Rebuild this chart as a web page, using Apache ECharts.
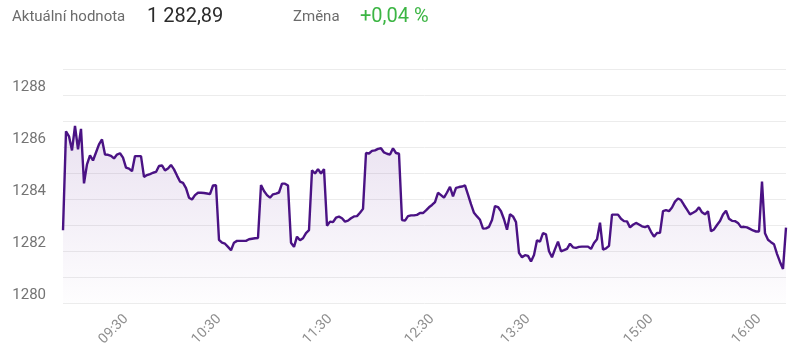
<!DOCTYPE html>
<html>
<head>
<meta charset="utf-8">
<script src="https://cdn.jsdelivr.net/npm/echarts@6/dist/echarts.min.js"></script>
<style>html,body{margin:0;padding:0;background:#fff}#c{width:800px;height:364px}</style>
</head>
<body>
<div id="c"></div>
<script>
const values = [
1282.80,1286.60,1286.41,1285.87,1286.81,1285.91,1286.70,1284.60,1285.33,1285.68,
1285.48,1285.79,1286.10,1286.29,1285.71,1285.70,1285.66,1285.56,1285.71,1285.76,
1285.59,1285.21,1285.17,1285.07,1285.65,1285.65,1285.65,1284.85,1284.92,1284.96,
1285.01,1285.04,1285.27,1285.29,1285.10,1285.17,1285.31,1285.14,1284.90,1284.67,
1284.62,1284.42,1284.05,1283.98,1284.15,1284.24,1284.24,1284.23,1284.21,1284.19,
1284.52,1284.53,1282.43,1282.32,1282.28,1282.16,1282.03,1282.32,1282.39,1282.39,
1282.39,1282.39,1282.45,1282.47,1282.49,1282.50,1284.54,1284.31,1284.15,1284.05,
1284.18,1284.21,1284.25,1284.59,1284.59,1284.52,1282.32,1282.16,1282.55,1282.41,
1282.49,1282.69,1282.80,1285.10,1284.98,1285.15,1284.98,1285.15,1282.97,1283.13,
1283.11,1283.28,1283.32,1283.26,1283.13,1283.17,1283.26,1283.33,1283.34,1283.47,
1283.62,1285.77,1285.75,1285.85,1285.87,1285.93,1285.95,1285.79,1285.74,1285.71,
1285.95,1285.77,1285.74,1283.19,1283.17,1283.34,1283.37,1283.37,1283.39,1283.46,
1283.46,1283.56,1283.68,1283.77,1283.88,1284.24,1284.15,1284.05,1284.25,1284.47,
1284.10,1284.43,1284.46,1284.48,1284.52,1284.17,1283.80,1283.47,1283.33,1283.20,
1282.86,1282.87,1282.93,1283.19,1283.73,1283.69,1283.53,1283.22,1282.82,1283.41,
1283.33,1283.11,1281.93,1281.76,1281.84,1281.81,1281.60,1281.85,1282.41,1282.36,
1282.69,1282.64,1281.99,1281.76,1282.07,1282.36,1281.99,1282.03,1282.08,1282.28,
1282.14,1282.12,1282.16,1282.17,1282.17,1282.17,1282.08,1282.31,1282.45,1283.09,
1282.05,1282.10,1282.20,1283.40,1283.40,1283.40,1283.24,1283.15,1283.14,1282.91,
1283.01,1283.08,1283.02,1282.95,1282.92,1282.97,1282.74,1282.55,1282.69,1282.70,
1283.53,1283.57,1283.53,1283.67,1283.90,1284.02,1283.96,1283.77,1283.59,1283.41,
1283.47,1283.54,1283.68,1283.49,1283.41,1283.53,1282.76,1282.83,1283.00,1283.15,
1283.40,1283.55,1283.24,1283.16,1283.15,1283.08,1282.92,1282.93,1282.91,1282.85,
1282.79,1282.75,1282.75,1284.67,1282.68,1282.43,1282.34,1282.26,1281.89,1281.58,
1281.31,1282.90
];
const tickLabels = ['09:30','10:30','11:30','12:30','13:30','15:00','16:00'];
const tickIndex = [21, 52, 89, 123, 155, 196, 232];
const yTickLabels = [1280, 1282, 1284, 1286, 1288];
const headerLabel = 'Aktuální hodnota';
const headerValue = '1 282,89';
const changeLabel = 'Změna';
const changeValue = '+0,04 %';

const categories = values.map((_, i) => String(i));
const chart = echarts.init(document.getElementById('c'));
const FONT = 'Roboto, "Noto Sans", sans-serif';
chart.setOption({
  animation: false,
  backgroundColor: '#fff',
  grid: { left: 63, right: 14, top: 69, bottom: 61, containLabel: false },
  graphic: [
    { type: 'text', left: 12, top: 10, style: { text: headerLabel, font: '15px ' + FONT, fill: '#6b6b6b' } },
    { type: 'text', left: 147, top: 7, style: { text: headerValue, font: '20px ' + FONT, fill: '#2b2b2b' } },
    { type: 'text', left: 293, top: 10, style: { text: changeLabel, font: '15px ' + FONT, fill: '#6b6b6b' } },
    { type: 'text', left: 360, top: 7, style: { text: changeValue, font: '20px ' + FONT, fill: '#3cb544' } }
  ],
  xAxis: {
    type: 'category',
    data: categories,
    boundaryGap: false,
    axisLine: { show: false },
    axisTick: { show: false },
    splitLine: { show: false },
    axisLabel: {
      rotate: 45,
      margin: 14,
      color: '#8f8f8f',
      fontSize: 14,
      fontFamily: FONT,
      interval: (i) => tickIndex.indexOf(i) >= 0,
      formatter: (v, i) => { const k = tickIndex.indexOf(Number(v)); return k >= 0 ? tickLabels[k] : ''; }
    }
  },
  yAxis: {
    type: 'value',
    min: 1280,
    max: 1289,
    interval: 1,
    axisLine: { show: false },
    axisTick: { show: false },
    splitLine: { lineStyle: { color: '#ececec', width: 1 } },
    axisLabel: {
      margin: 17,
      color: '#747474',
      fontSize: 15,
      fontFamily: FONT,
      verticalAlign: 'bottom',
      formatter: (v) => yTickLabels.indexOf(v) >= 0 ? String(v) : ''
    }
  },
  series: [{
    type: 'line',
    data: values,
    symbol: 'none',
    lineStyle: { color: '#4a1284', width: 2.4 },
    areaStyle: {
      color: new echarts.graphic.LinearGradient(0, 0, 0, 1, [
        { offset: 0, color: 'rgba(100,40,150,0.2)' },
        { offset: 1, color: 'rgba(100,40,150,0.01)' }
      ])
    }
  }]
});
</script>
</body>
</html>
